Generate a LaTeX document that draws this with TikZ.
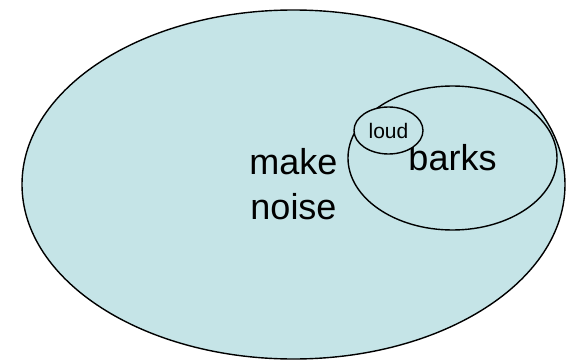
\documentclass[tikz,border=0pt]{standalone}
\usepackage{fontspec}
\setmainfont{Liberation Sans}
\usetikzlibrary{shapes.geometric}
\definecolor{setfill}{RGB}{197,228,231}
\tikzset{
    set/.style={ellipse, draw=black, line width=1.4pt, fill=setfill, inner sep=0pt, align=center},
    bigText/.style={font=\fontsize{36}{45}\selectfont},
    smallText/.style={font=\fontsize{21}{25}\selectfont}
}

\begin{document}
\begin{tikzpicture}[x=1pt, y=1pt]
    \useasboundingbox (0,0) rectangle (566,360);
    % Sets
    \node[set, bigText, minimum width=543pt, minimum height=349pt] (Noise) at (293.5,175.5) {make\\noise};
    \node[set, bigText, minimum width=209pt, minimum height=144pt] (Barks) at (452.5,202) {barks};
    \node[set, smallText, minimum width=69pt, minimum height=47pt] (Loud) at (388.5,229.5) {loud};
\end{tikzpicture}
\end{document}
